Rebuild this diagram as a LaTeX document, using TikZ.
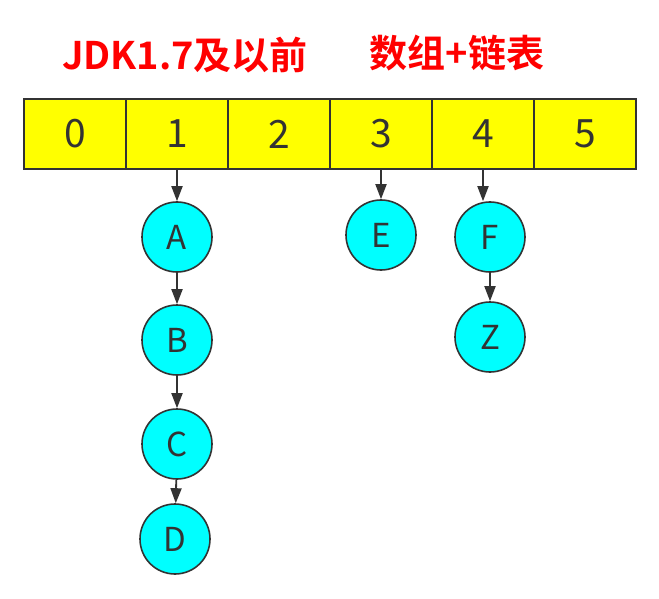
\documentclass[tikz,border=0pt]{standalone}
\usepackage{fontspec}
\setmainfont{Noto Sans CJK SC}[BoldFont={* Bold}]
\usetikzlibrary{arrows.meta, positioning}
\definecolor{slotfill}{RGB}{255,255,0}
\definecolor{entryfill}{RGB}{0,255,255}
\definecolor{edge}{RGB}{51,51,51}
\definecolor{headred}{RGB}{255,0,0}

\begin{document}
\begin{tikzpicture}[x=1pt,y=-1pt,
		slot/.style={draw=edge,line width=2pt,fill=slotfill,minimum width=102pt,minimum height=70pt,inner sep=0pt,text=edge,font=\fontsize{39}{39}\selectfont},
		entry/.style={circle,draw=edge,line width=1.6pt,fill=entryfill,minimum size=70pt,inner sep=0pt,text=edge,font=\fontsize{33}{33}\selectfont},
		link/.style={-{Triangle[length=15pt,width=11pt]},draw=edge,line width=1.8pt},
		head/.style={text=headred,font=\fontsize{38}{38}\selectfont\bfseries}]
			\useasboundingbox[fill=white] (0,0) rectangle (659,599);
			% titles
			\node[head] (jdk) at (185,55) {JDK1.7及以前};
			\node[head] (kind) at (457,53) {数组+链表};
			% array slots
			\foreach \i in {0,...,5}
				\node[slot] (s\i) at ({75+102*\i},134) {\i};
			% chain entries
			\node[entry] (A) at (177,237) {A};
			\node[entry] (B) at (177,340) {B};
			\node[entry] (C) at (177,444) {C};
			\node[entry] (D) at (175,539) {D};
			\node[entry] (E) at (381,235) {E};
			\node[entry] (F) at (490,237) {F};
			\node[entry] (Z) at (490,337) {Z};
			% links
			\draw[link] (s1) -- (A);
			\draw[link] (A) -- (B);
			\draw[link] (B) -- (C);
			\draw[link] (C) -- (D);
			\draw[link] (s3) -- (E);
			\draw[link] (s4.south) -- (s4.south |- F.north);
			\draw[link] (F) -- (Z);
		\end{tikzpicture}
\end{document}
